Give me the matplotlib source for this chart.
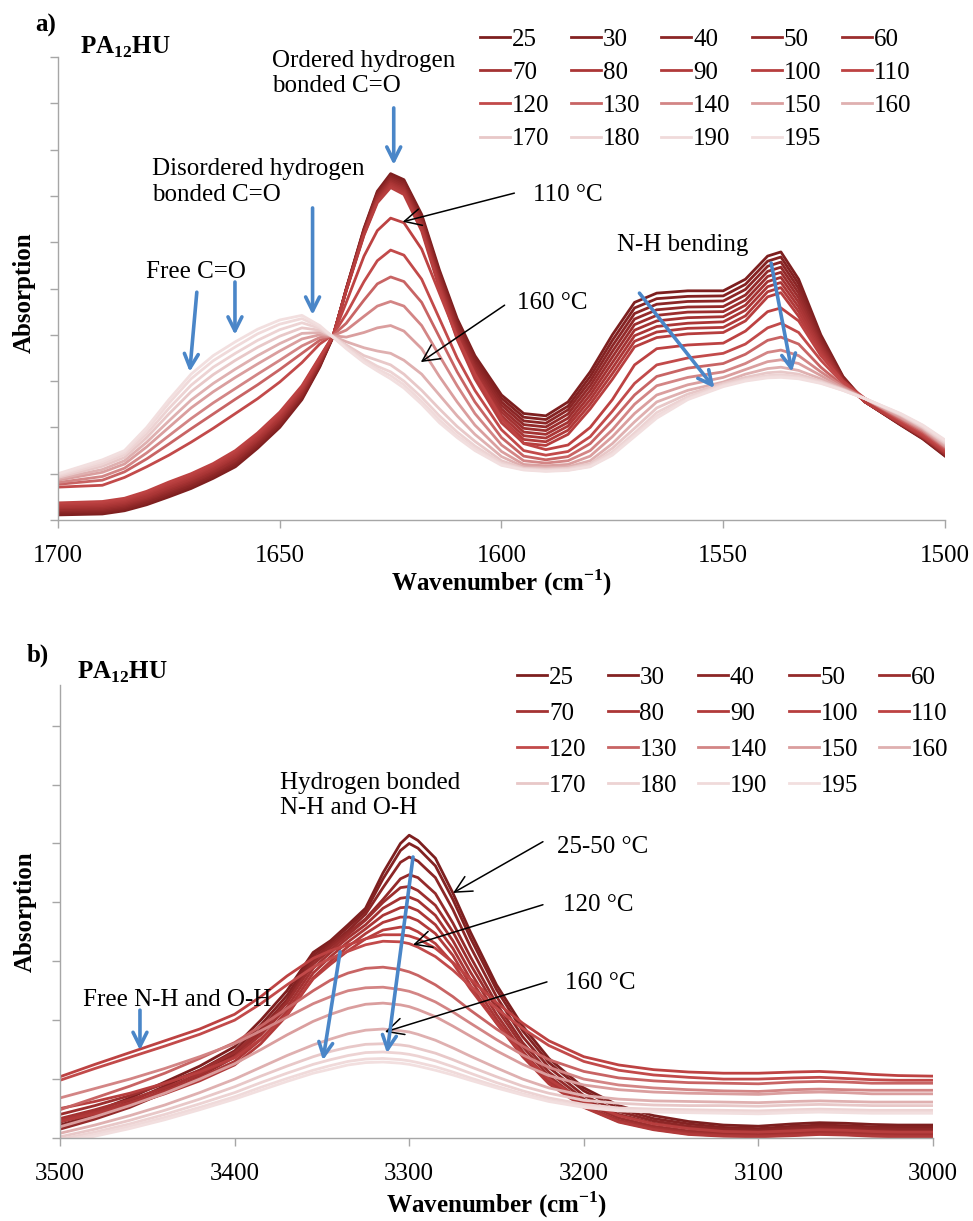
import matplotlib
matplotlib.use('Agg')
import matplotlib.pyplot as plt

plt.rcParams['font.family'] = ['Liberation Serif', 'DejaVu Serif']
plt.rcParams['mathtext.fontset'] = 'custom'
plt.rcParams['mathtext.rm'] = 'Liberation Serif'
plt.rcParams['mathtext.bf'] = 'Liberation Serif:bold'

# temperatures (legend order) and their colours
temps = [25, 30, 40, 50, 60, 70, 80, 90, 100, 110, 120, 130, 140, 150, 160, 170, 180, 190, 195]
colors = ['#7d1f1f', '#842222', '#8c2626', '#942a2a', '#9c2e2e', '#a43232', '#ab3636',
          '#b13a3a', '#b73e3e', '#bd4242', '#c24a4a', '#c86464', '#d38585', '#da9e9e',
          '#dfb0b0', '#e8c8c8', '#edd3d3', '#f0dada', '#f2dfdf']

# panel a: C=O / N-H bending region, absorbance (arb. units)
wn_a = [1700, 1690, 1685, 1680, 1675, 1670, 1665, 1660, 1655, 1650, 1645, 1641, 1638,
        1635, 1631, 1628, 1625, 1622, 1618, 1614, 1610, 1606,
        1600, 1595, 1590, 1585, 1580, 1575, 1570, 1565, 1558, 1550, 1545, 1540, 1537,
        1533, 1528, 1523, 1518, 1510, 1505, 1500]
abs_a = [
    # 25
    [0.11, 0.13, 0.20, 0.33, 0.50, 0.68, 0.90, 1.15, 1.55, 2.00, 2.60, 3.30, 3.95,
     5.0, 6.3, 7.1, 7.48, 7.35, 6.6, 5.4, 4.35, 3.55,
     2.7, 2.3, 2.25, 2.55, 3.2, 4.0, 4.7, 4.9, 4.95, 4.95, 5.2, 5.7, 5.79, 5.2, 4.0, 3.1, 2.55, 2.05, 1.75, 1.38],
    # 30
    [0.14, 0.16, 0.23, 0.36, 0.54, 0.72, 0.94, 1.19, 1.59, 2.04, 2.63, 3.32, 3.95,
     4.99, 6.28, 7.07, 7.44, 7.31, 6.55, 5.35, 4.29, 3.49,
     2.63, 2.22, 2.17, 2.46, 3.1, 3.88, 4.58, 4.78, 4.83, 4.84, 5.09, 5.59, 5.68, 5.1, 3.95, 3.08, 2.55, 2.06, 1.76, 1.39],
    # 40
    [0.17, 0.19, 0.26, 0.39, 0.57, 0.75, 0.97, 1.23, 1.62, 2.07, 2.67, 3.35, 3.96,
     4.99, 6.26, 7.04, 7.41, 7.27, 6.51, 5.3, 4.24, 3.43,
     2.55, 2.14, 2.09, 2.38, 3.0, 3.76, 4.46, 4.66, 4.72, 4.73, 4.98, 5.48, 5.57, 5.0, 3.9, 3.06, 2.55, 2.06, 1.77, 1.41],
    # 50
    [0.20, 0.22, 0.29, 0.43, 0.61, 0.79, 1.01, 1.27, 1.66, 2.11, 2.70, 3.37, 3.96,
     4.98, 6.24, 7.01, 7.37, 7.23, 6.47, 5.25, 4.18, 3.36,
     2.48, 2.06, 2.01, 2.29, 2.9, 3.64, 4.34, 4.54, 4.6, 4.61, 4.86, 5.37, 5.46, 4.9, 3.85, 3.04, 2.55, 2.07, 1.78, 1.42],
    # 60
    [0.22, 0.25, 0.32, 0.46, 0.64, 0.82, 1.04, 1.30, 1.70, 2.15, 2.73, 3.40, 3.96,
     4.98, 6.23, 6.98, 7.33, 7.19, 6.42, 5.2, 4.13, 3.3,
     2.4, 1.98, 1.93, 2.2, 2.8, 3.52, 4.22, 4.42, 4.49, 4.5, 4.75, 5.26, 5.35, 4.8, 3.8, 3.03, 2.55, 2.08, 1.79, 1.43],
    # 70
    [0.26, 0.28, 0.35, 0.49, 0.68, 0.86, 1.08, 1.35, 1.73, 2.18, 2.77, 3.42, 3.97,
     4.97, 6.21, 6.94, 7.29, 7.15, 6.38, 5.15, 4.07, 3.24,
     2.33, 1.9, 1.85, 2.11, 2.7, 3.4, 4.1, 4.3, 4.37, 4.39, 4.64, 5.15, 5.24, 4.7, 3.75, 3.01, 2.55, 2.08, 1.79, 1.44],
    # 80
    [0.28, 0.31, 0.38, 0.52, 0.71, 0.89, 1.11, 1.38, 1.77, 2.22, 2.80, 3.45, 3.97,
     4.96, 6.19, 6.91, 7.26, 7.11, 6.33, 5.1, 4.01, 3.18,
     2.25, 1.82, 1.77, 2.03, 2.6, 3.28, 3.98, 4.18, 4.25, 4.28, 4.53, 5.04, 5.13, 4.6, 3.7, 2.99, 2.55, 2.09, 1.8, 1.46],
    # 90
    [0.31, 0.34, 0.41, 0.56, 0.75, 0.93, 1.15, 1.42, 1.81, 2.26, 2.83, 3.47, 3.97,
     4.96, 6.17, 6.88, 7.22, 7.07, 6.29, 5.05, 3.96, 3.11,
     2.18, 1.74, 1.69, 1.94, 2.5, 3.16, 3.86, 4.06, 4.14, 4.16, 4.41, 4.93, 5.02, 4.5, 3.65, 2.97, 2.55, 2.09, 1.81, 1.47],
    # 100
    [0.34, 0.37, 0.44, 0.59, 0.78, 0.96, 1.18, 1.46, 1.84, 2.29, 2.87, 3.50, 3.98,
     4.95, 6.15, 6.85, 7.18, 7.03, 6.24, 5.0, 3.9, 3.05,
     2.1, 1.66, 1.61, 1.85, 2.4, 3.04, 3.74, 3.94, 4.02, 4.05, 4.3, 4.82, 4.91, 4.4, 3.6, 2.95, 2.55, 2.1, 1.82, 1.48],
    # 110
    [0.37, 0.40, 0.47, 0.62, 0.82, 1.00, 1.22, 1.50, 1.88, 2.33, 2.90, 3.52, 3.98,
     4.7, 5.7, 6.25, 6.52, 6.42, 5.85, 4.9, 3.95, 3.15,
     2.2, 1.65, 1.52, 1.62, 2.0, 2.6, 3.35, 3.7, 3.78, 3.82, 4.08, 4.5, 4.58, 4.3, 3.55, 3.0, 2.62, 2.12, 1.84, 1.5],
    # 120
    [0.71, 0.75, 0.92, 1.15, 1.40, 1.68, 1.98, 2.30, 2.62, 2.98, 3.40, 3.80, 4.00,
     4.45, 5.15, 5.6, 5.83, 5.72, 5.2, 4.35, 3.5, 2.8,
     1.95, 1.5, 1.4, 1.48, 1.8, 2.35, 2.95, 3.35, 3.5, 3.6, 3.8, 4.15, 4.25, 4.05, 3.45, 2.95, 2.62, 2.15, 1.87, 1.52],
    # 130
    [0.77, 0.86, 1.04, 1.32, 1.64, 1.97, 2.29, 2.61, 2.92, 3.25, 3.60, 3.88, 3.99,
     4.25, 4.75, 5.1, 5.25, 5.15, 4.7, 3.95, 3.2, 2.55,
     1.78, 1.38, 1.3, 1.37, 1.65, 2.15, 2.7, 3.1, 3.28, 3.38, 3.58, 3.88, 3.95, 3.8, 3.3, 2.9, 2.62, 2.17, 1.9, 1.55],
    # 140
    [0.81, 0.94, 1.12, 1.45, 1.82, 2.19, 2.53, 2.84, 3.15, 3.45, 3.76, 3.94, 3.98,
     4.1, 4.4, 4.62, 4.72, 4.62, 4.2, 3.55, 2.9, 2.3,
     1.62, 1.28, 1.23, 1.28, 1.5, 1.95, 2.5, 2.9, 3.08, 3.2, 3.38, 3.62, 3.67, 3.55, 3.2, 2.88, 2.62, 2.2, 1.93, 1.58],
    # 150
    [0.86, 1.03, 1.21, 1.58, 2.00, 2.42, 2.77, 3.08, 3.37, 3.65, 3.91, 4.00, 3.98,
     3.95, 4.05, 4.15, 4.2, 4.08, 3.7, 3.1, 2.55, 2.05,
     1.48, 1.2, 1.17, 1.2, 1.38, 1.8, 2.3, 2.7, 2.92, 3.08, 3.25, 3.42, 3.46, 3.38, 3.12, 2.85, 2.62, 2.22, 1.96, 1.6],
    # 160
    [0.89, 1.09, 1.28, 1.68, 2.14, 2.59, 2.95, 3.26, 3.55, 3.81, 4.03, 4.05, 3.97,
     3.85, 3.72, 3.65, 3.6, 3.45, 3.15, 2.7, 2.25, 1.85,
     1.37, 1.15, 1.13, 1.15, 1.28, 1.65, 2.12, 2.55, 2.8, 2.98, 3.15, 3.27, 3.3, 3.23, 3.05, 2.83, 2.62, 2.25, 1.98, 1.63],
    # 170
    [0.92, 1.16, 1.35, 1.78, 2.29, 2.77, 3.14, 3.45, 3.73, 3.97, 4.15, 4.10, 3.96,
     3.78, 3.55, 3.45, 3.35, 3.15, 2.8, 2.4, 2.02, 1.7,
     1.28, 1.12, 1.1, 1.12, 1.22, 1.55, 1.98, 2.42, 2.72, 2.95, 3.08, 3.18, 3.2, 3.15, 3.0, 2.82, 2.62, 2.27, 2.0, 1.66],
    # 180
    [0.95, 1.21, 1.41, 1.86, 2.41, 2.91, 3.30, 3.60, 3.88, 4.11, 4.26, 4.14, 3.96,
     3.75, 3.48, 3.32, 3.2, 3.0, 2.65, 2.25, 1.9, 1.6,
     1.23, 1.1, 1.08, 1.1, 1.19, 1.47, 1.88, 2.32, 2.66, 2.92, 3.04, 3.12, 3.14, 3.1, 2.98, 2.81, 2.62, 2.28, 2.02, 1.69],
    # 190
    [0.98, 1.26, 1.46, 1.94, 2.52, 3.05, 3.44, 3.74, 4.02, 4.23, 4.35, 4.17, 3.95,
     3.72, 3.43, 3.26, 3.12, 2.92, 2.56, 2.16, 1.82, 1.54,
     1.2, 1.09, 1.06, 1.08, 1.16, 1.43, 1.83, 2.25, 2.62, 2.9, 3.02, 3.09, 3.1, 3.07, 2.96, 2.8, 2.62, 2.29, 2.04, 1.71],
    # 195
    [1.00, 1.30, 1.50, 2.00, 2.60, 3.15, 3.55, 3.85, 4.12, 4.32, 4.42, 4.20, 3.95,
     3.7, 3.4, 3.22, 3.05, 2.85, 2.5, 2.1, 1.78, 1.5,
     1.18, 1.08, 1.05, 1.07, 1.15, 1.4, 1.8, 2.2, 2.6, 2.88, 3.0, 3.07, 3.08, 3.05, 2.95, 2.8, 2.62, 2.3, 2.05, 1.73],
]

# panel b: N-H / O-H stretching region
wn_b = [3500, 3480, 3460, 3440, 3420, 3400, 3385, 3370, 3355, 3345, 3335, 3325, 3315,
        3305, 3300, 3295, 3285, 3275, 3265, 3250, 3235, 3220, 3200, 3180, 3160, 3140,
        3120, 3100, 3080, 3065, 3050, 3035, 3020, 3000]
abs_b = [
    # 25
    [0.27, 0.45, 0.68, 0.95, 1.22, 1.55, 2.0, 2.5, 3.15, 3.35, 3.62, 3.9, 4.5,
     5.0, 5.14, 5.05, 4.75, 4.16, 3.5, 2.6, 1.9, 1.35, 0.85, 0.55, 0.38, 0.28,
     0.22, 0.2, 0.24, 0.26, 0.25, 0.23, 0.22, 0.22],
    # 30
    [0.22, 0.4, 0.62, 0.88, 1.15, 1.48, 1.92, 2.42, 3.1, 3.32, 3.58, 3.85, 4.4,
     4.88, 5.0, 4.92, 4.62, 4.05, 3.4, 2.52, 1.82, 1.28, 0.8, 0.5, 0.33, 0.24,
     0.18, 0.16, 0.2, 0.22, 0.21, 0.19, 0.18, 0.18],
    # 40
    [0.18, 0.36, 0.57, 0.82, 1.1, 1.42, 1.85, 2.35, 3.05, 3.28, 3.52, 3.8, 4.25,
     4.68, 4.77, 4.7, 4.42, 3.88, 3.25, 2.4, 1.72, 1.2, 0.72, 0.45, 0.29, 0.2,
     0.15, 0.13, 0.17, 0.19, 0.18, 0.16, 0.15, 0.15],
    # 50
    [0.15, 0.32, 0.52, 0.77, 1.05, 1.37, 1.8, 2.3, 3.0, 3.25, 3.48, 3.72, 4.05,
     4.4, 4.47, 4.42, 4.15, 3.65, 3.08, 2.28, 1.62, 1.12, 0.66, 0.4, 0.25, 0.17,
     0.12, 0.1, 0.14, 0.16, 0.15, 0.13, 0.12, 0.12],
    # 60
    [0.4, 0.55, 0.72, 0.92, 1.15, 1.45, 1.82, 2.3, 2.95, 3.2, 3.45, 3.7, 4.0,
     4.25, 4.27, 4.2, 3.95, 3.5, 2.95, 2.2, 1.55, 1.05, 0.6, 0.34, 0.2, 0.12,
     0.08, 0.06, 0.1, 0.12, 0.11, 0.09, 0.08, 0.08],
    # 70
    [0.33, 0.48, 0.65, 0.85, 1.08, 1.38, 1.75, 2.22, 2.88, 3.15, 3.4, 3.62, 3.9,
     4.07, 4.09, 4.03, 3.78, 3.35, 2.82, 2.1, 1.47, 0.98, 0.55, 0.3, 0.17, 0.09,
     0.05, 0.04, 0.07, 0.09, 0.08, 0.06, 0.05, 0.05],
    # 80
    [0.3, 0.44, 0.6, 0.8, 1.02, 1.3, 1.67, 2.15, 2.8, 3.08, 3.33, 3.55, 3.78,
     3.91, 3.92, 3.86, 3.62, 3.22, 2.7, 2.02, 1.42, 0.95, 0.53, 0.28, 0.15, 0.07,
     0.04, 0.03, 0.05, 0.07, 0.06, 0.04, 0.03, 0.03],
    # 90
    [0.28, 0.41, 0.56, 0.75, 0.97, 1.24, 1.6, 2.08, 2.72, 3.0, 3.25, 3.47, 3.66,
     3.75, 3.75, 3.69, 3.47, 3.1, 2.6, 1.95, 1.38, 0.92, 0.52, 0.27, 0.14, 0.06,
     0.03, 0.02, 0.04, 0.06, 0.05, 0.03, 0.02, 0.02],
    # 100
    [0.5, 0.62, 0.76, 0.93, 1.12, 1.36, 1.68, 2.1, 2.7, 2.95, 3.18, 3.38, 3.53,
     3.58, 3.57, 3.5, 3.3, 2.97, 2.53, 1.95, 1.42, 1.0, 0.62, 0.38, 0.24, 0.16,
     0.11, 0.1, 0.12, 0.14, 0.13, 0.11, 0.1, 0.1],
    # 110
    [1.04, 1.25, 1.45, 1.65, 1.85, 2.1, 2.4, 2.75, 3.05, 3.18, 3.28, 3.38, 3.45,
     3.45, 3.43, 3.38, 3.22, 2.98, 2.7, 2.3, 1.95, 1.65, 1.38, 1.24, 1.16, 1.12,
     1.1, 1.1, 1.12, 1.13, 1.11, 1.08, 1.06, 1.05],
    # 120
    [0.98, 1.18, 1.37, 1.56, 1.76, 2.0, 2.28, 2.6, 2.9, 3.05, 3.17, 3.28, 3.34,
     3.33, 3.3, 3.24, 3.08, 2.85, 2.58, 2.2, 1.86, 1.57, 1.3, 1.15, 1.07, 1.03,
     1.0, 1.0, 1.02, 1.03, 1.01, 0.99, 0.98, 0.98],
    # 130
    [0.48, 0.68, 0.88, 1.1, 1.35, 1.62, 1.9, 2.2, 2.5, 2.68, 2.8, 2.88, 2.9,
     2.86, 2.82, 2.76, 2.6, 2.4, 2.17, 1.85, 1.56, 1.33, 1.13, 1.02, 0.97, 0.94,
     0.93, 0.92, 0.95, 0.96, 0.95, 0.93, 0.93, 0.93],
    # 140
    [0.68, 0.84, 1.0, 1.18, 1.38, 1.6, 1.82, 2.05, 2.28, 2.4, 2.5, 2.55, 2.56,
     2.52, 2.49, 2.44, 2.31, 2.14, 1.95, 1.67, 1.41, 1.2, 1.0, 0.9, 0.85, 0.82,
     0.8, 0.79, 0.82, 0.83, 0.82, 0.81, 0.81, 0.81],
    # 150
    [0.19, 0.36, 0.55, 0.76, 1.0, 1.26, 1.5, 1.75, 1.98, 2.1, 2.2, 2.27, 2.29,
     2.26, 2.23, 2.18, 2.06, 1.9, 1.73, 1.48, 1.25, 1.06, 0.9, 0.82, 0.78, 0.76,
     0.75, 0.74, 0.77, 0.78, 0.77, 0.75, 0.75, 0.75],
    # 160
    [0.08, 0.22, 0.38, 0.56, 0.77, 1.0, 1.2, 1.4, 1.58, 1.68, 1.77, 1.83, 1.85,
     1.82, 1.8, 1.76, 1.66, 1.53, 1.39, 1.19, 1.0, 0.85, 0.72, 0.66, 0.63, 0.62,
     0.61, 0.6, 0.62, 0.63, 0.62, 0.61, 0.61, 0.61],
    # 170
    [0.02, 0.15, 0.3, 0.47, 0.66, 0.87, 1.05, 1.22, 1.38, 1.47, 1.54, 1.59, 1.6,
     1.58, 1.56, 1.52, 1.44, 1.33, 1.21, 1.04, 0.88, 0.76, 0.64, 0.59, 0.56, 0.55,
     0.55, 0.54, 0.56, 0.57, 0.56, 0.55, 0.55, 0.55],
    # 180
    [-0.02, 0.1, 0.24, 0.4, 0.58, 0.77, 0.94, 1.1, 1.25, 1.33, 1.4, 1.45, 1.46,
     1.44, 1.42, 1.39, 1.31, 1.21, 1.1, 0.94, 0.8, 0.68, 0.57, 0.51, 0.49, 0.48,
     0.47, 0.46, 0.48, 0.49, 0.48, 0.47, 0.47, 0.47],
    # 190
    [-0.05, 0.06, 0.2, 0.35, 0.52, 0.7, 0.86, 1.01, 1.15, 1.23, 1.3, 1.34, 1.35,
     1.33, 1.31, 1.28, 1.21, 1.12, 1.02, 0.88, 0.75, 0.64, 0.54, 0.48, 0.46, 0.45,
     0.44, 0.43, 0.45, 0.46, 0.45, 0.44, 0.44, 0.44],
    # 195
    [-0.08, 0.03, 0.16, 0.31, 0.48, 0.66, 0.81, 0.96, 1.1, 1.17, 1.24, 1.28, 1.29,
     1.27, 1.25, 1.22, 1.15, 1.07, 0.98, 0.85, 0.73, 0.62, 0.52, 0.46, 0.44, 0.43,
     0.42, 0.41, 0.43, 0.44, 0.43, 0.42, 0.42, 0.42],
]

W, H = 973, 1221
BLUE = '#4a86c8'
GREY = '#a6a6a6'
FS = 18

fig = plt.figure(figsize=(W / 100, H / 100), dpi=100)


def fx(px):
    return px / W


def fy(py):
    return 1 - py / H


def spectra_panel(rect, wn, rows, xlim, xticks, ytop, nticks):
    ax = fig.add_axes(rect)
    lines = []
    for t, c, y in zip(temps, colors, rows):
        ln, = ax.plot(wn, y, color=c, lw=2.0, label=str(t), solid_joinstyle='round')
        lines.append(ln)
    ax.set_xlim(*xlim)
    ax.set_ylim(0, ytop)
    ax.set_xticks(xticks)
    ax.set_yticks(range(nticks))
    ax.set_yticklabels([])
    for s in ('top', 'right'):
        ax.spines[s].set_visible(False)
    for s in ('left', 'bottom'):
        ax.spines[s].set_color(GREY)
        ax.spines[s].set_linewidth(1.0)
    ax.tick_params(direction='out', length=6, width=1.0, color=GREY,
                   labelsize=FS, pad=12)
    return ax, lines


def temp_legend(ax, lines, x0, y0, spacing):
    # Excel-style legend: filled row by row, 5 columns
    order = [r * 5 + c for c in range(5) for r in range(4) if r * 5 + c < len(lines)]
    ax.legend([lines[i] for i in order], [str(temps[i]) for i in order],
              ncols=5, frameon=False, fontsize=FS, handlelength=1.2,
              handletextpad=0.08, columnspacing=0.84, labelspacing=spacing,
              borderpad=0, borderaxespad=0, loc='upper left',
              bbox_to_anchor=(fx(x0), fy(y0)), bbox_transform=fig.transFigure)


def blue_arrow(ax, tail, tip):
    ax.annotate('', xy=tip, xytext=tail,
                arrowprops=dict(arrowstyle='->,head_length=0.5,head_width=0.25',
                                color=BLUE, lw=2.6, shrinkA=0, shrinkB=0,
                                mutation_scale=20))


def black_arrow(ax, tail, tip):
    ax.annotate('', xy=tip, xytext=tail,
                arrowprops=dict(arrowstyle='->,head_length=0.6,head_width=0.3',
                                color='black', lw=1.1, shrinkA=0, shrinkB=0,
                                mutation_scale=20))


def labels(ax, ylab_x, ylab_y, xlab_y):
    ax.set_xlabel(r'Wavenumber (cm$^{\mathbf{-1}}$)', fontsize=FS, fontweight='bold')
    ax.xaxis.set_label_coords(0.5, xlab_y)
    ax.xaxis.label.set_va('center')
    ax.set_ylabel('Absorption', fontsize=FS, fontweight='bold')
    ax.yaxis.set_label_coords(ylab_x, ylab_y)
    ax.yaxis.label.set_va('center')


# ---------------- panel a ----------------
ax_a, lines_a = spectra_panel([fx(58), fy(520), (945 - 58) / W, (520 - 57) / H],
                              wn_a, abs_a, (1700, 1500), [1700, 1650, 1600, 1550, 1500],
                              10, 11)
labels(ax_a, -0.0383, 0.49, -0.136)
temp_legend(ax_a, lines_a, 480, 28, 0.43)

ax_a.text(1651.8, 9.65, 'Ordered hydrogen\nbonded C=O', fontsize=FS, ha='left', va='center')
blue_arrow(ax_a, (1624.3, 8.9), (1624.3, 7.67))
ax_a.text(1678.8, 7.3, 'Disordered hydrogen\nbonded C=O', fontsize=FS, ha='left', va='center')
blue_arrow(ax_a, (1642.6, 6.74), (1642.6, 4.43))
ax_a.text(1668.9, 5.36, 'Free C=O', fontsize=FS, ha='center', va='center')
blue_arrow(ax_a, (1668.7, 4.92), (1670.3, 3.2))
blue_arrow(ax_a, (1660.1, 5.14), (1660.1, 4.0))
ax_a.text(1593.0, 7.02, '110 °C', fontsize=FS, ha='left', va='center')
black_arrow(ax_a, (1597.1, 7.06), (1622.3, 6.44))
ax_a.text(1596.4, 4.69, '160 °C', fontsize=FS, ha='left', va='center')
black_arrow(ax_a, (1599.3, 4.64), (1618.2, 3.41))
ax_a.text(1559.2, 5.94, 'N-H bending', fontsize=FS, ha='center', va='center')
blue_arrow(ax_a, (1568.9, 4.9), (1552.0, 2.85))
blue_arrow(ax_a, (1539.2, 5.55), (1534.5, 3.2))

fig.text(fx(35), fy(25), 'a)', fontsize=FS, fontweight='bold', ha='left', va='center')
fig.text(fx(80), fy(47), r'PA$_{\mathbf{12}}$HU', fontsize=FS, fontweight='bold',
         ha='left', va='center')

# ---------------- panel b ----------------
ax_b, lines_b = spectra_panel([fx(60), fy(1138), (933 - 60) / W, (1138 - 685) / H],
                              wn_b, abs_b, (3500, 3000), [3500, 3400, 3300, 3200, 3100, 3000],
                              7.69, 8)
labels(ax_b, -0.040, 0.50, -0.148)
temp_legend(ax_b, lines_b, 517, 666, 0.54)

ax_b.text(3374, 5.81, 'Hydrogen bonded\nN-H and O-H', fontsize=FS, ha='left', va='center')
ax_b.text(3215.3, 4.94, '25-50 °C', fontsize=FS, ha='left', va='center')
black_arrow(ax_b, (3223.4, 5.03), (3274.9, 4.16))
ax_b.text(3211.9, 3.96, '120 °C', fontsize=FS, ha='left', va='center')
black_arrow(ax_b, (3223.4, 3.96), (3297.8, 3.28))
ax_b.text(3210.8, 2.63, '160 °C', fontsize=FS, ha='left', va='center')
black_arrow(ax_b, (3221.1, 2.65), (3313.9, 1.8))
blue_arrow(ax_b, (3297.8, 4.77), (3312.7, 1.44))
blue_arrow(ax_b, (3339.6, 3.16), (3349.4, 1.32))
ax_b.text(3486.8, 2.34, 'Free N-H and O-H', fontsize=FS, ha='left', va='center')
blue_arrow(ax_b, (3454.2, 2.17), (3454.2, 1.49))

fig.text(fx(27), fy(655), 'b)', fontsize=FS, fontweight='bold', ha='left', va='center')
fig.text(fx(77), fy(672), r'PA$_{\mathbf{12}}$HU', fontsize=FS, fontweight='bold',
         ha='left', va='center')

fig.savefig('out.png', dpi=100)
